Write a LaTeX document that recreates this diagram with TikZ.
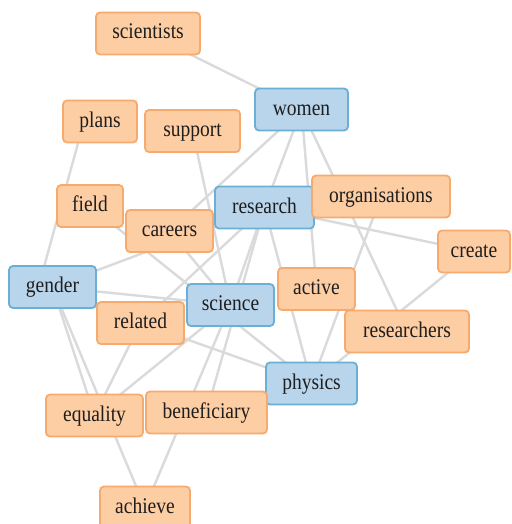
\documentclass[tikz,border=0pt]{standalone}
\usepackage{fontspec}
\usepackage{graphicx}
\setmainfont{Liberation Serif}
\usetikzlibrary{backgrounds}
\definecolor{ofill}{HTML}{FDCDA3}
\definecolor{oline}{HTML}{F6AA6E}
\definecolor{bfill}{HTML}{B9D5EC}
\definecolor{bline}{HTML}{6BAED6}
\definecolor{edgec}{HTML}{DADADA}
\definecolor{txt}{HTML}{1E1E1E}
\newcommand\talltext[1]{\scalebox{1}[1.15]{#1}}
\tikzset{
  term/.style={rounded corners=4pt, line width=1.8pt, minimum height=42pt, inner sep=0pt,
    text height=14pt, text depth=3pt,
    text=txt, font=\fontsize{19.5}{22}\selectfont},
  oterm/.style={term, fill=ofill, draw=oline},
  bterm/.style={term, fill=bfill, draw=bline},
  link/.style={draw=edgec, line width=2.4pt}
}
\begin{document}
\begin{tikzpicture}[x=1pt,y=-1pt]
\useasboundingbox (0,0) rectangle (511,524);
\node[oterm, minimum width=104pt] (scientists) at (148,33.5) {\talltext{scientists}};
\node[bterm, minimum width=93pt] (women) at (301.5,109.5) {\talltext{women}};
\node[oterm, minimum width=74pt] (plans) at (100,121.5) {\talltext{plans}};
\node[oterm, minimum width=95pt] (support) at (192.5,131) {\talltext{support}};
\node[oterm, minimum width=66pt] (field) at (90,206) {\talltext{field}};
\node[oterm, minimum width=87pt] (careers) at (169.5,231) {\talltext{careers}};
\node[bterm, minimum width=99pt] (research) at (264.5,207.5) {\talltext{research}};
\node[oterm, minimum width=138pt] (organisations) at (381,196.5) {\talltext{organisations}};
\node[oterm, minimum width=72pt] (create) at (474,251.5) {\talltext{create}};
\node[bterm, minimum width=87pt] (gender) at (52.5,287) {\talltext{gender}};
\node[bterm, minimum width=87pt] (science) at (230.5,305) {\talltext{science}};
\node[oterm, minimum width=77pt] (active) at (316.5,289) {\talltext{active}};
\node[oterm, minimum width=87pt] (related) at (140.5,323) {\talltext{related}};
\node[oterm, minimum width=124pt] (researchers) at (407,331.5) {\talltext{researchers}};
\node[bterm, minimum width=91pt] (physics) at (311.5,383.5) {\talltext{physics}};
\node[oterm, minimum width=97pt] (equality) at (94.5,415.5) {\talltext{equality}};
\node[oterm, minimum width=121pt] (beneficiary) at (206.5,412.5) {\talltext{beneficiary}};
\node[oterm, minimum width=90pt] (achieve) at (145,507.5) {\talltext{achieve}};
\begin{scope}[on background layer]
\draw[link] (scientists.center) -- (women.center);
\draw[link] ([xshift=-16pt]plans.center) -- ([xshift=-14pt]gender.center);
\draw[link] (women.center) -- (careers.center);
\draw[link] (women.center) -- (research.center);
\draw[link] (women.center) -- (active.center);
\draw[link] (women.center) -- (researchers.center);
\draw[link] (support.center) -- (science.center);
\draw[link] (field.center) -- (physics.center);
\draw[link] (gender.center) -- (research.center);
\draw[link] (gender.center) -- (science.center);
\draw[link] (gender.center) -- (equality.center);
\draw[link] (gender.center) -- (achieve.center);
\draw[link] (research.center) -- (science.center);
\draw[link] (research.center) -- (related.center);
\draw[link] (research.center) -- (beneficiary.center);
\draw[link] (research.center) -- (physics.center);
\draw[link] (research.center) -- (create.center);
\draw[link] (careers.center) -- (science.center);
\draw[link] (related.center) -- (equality.center);
\draw[link] (related.center) -- (physics.center);
\draw[link] (equality.center) -- (science.center);
\draw[link] (science.center) -- (achieve.center);
\draw[link] (organisations.center) -- (physics.center);
\draw[link] (create.center) -- (physics.center);
\end{scope}
\end{tikzpicture}
\end{document}
